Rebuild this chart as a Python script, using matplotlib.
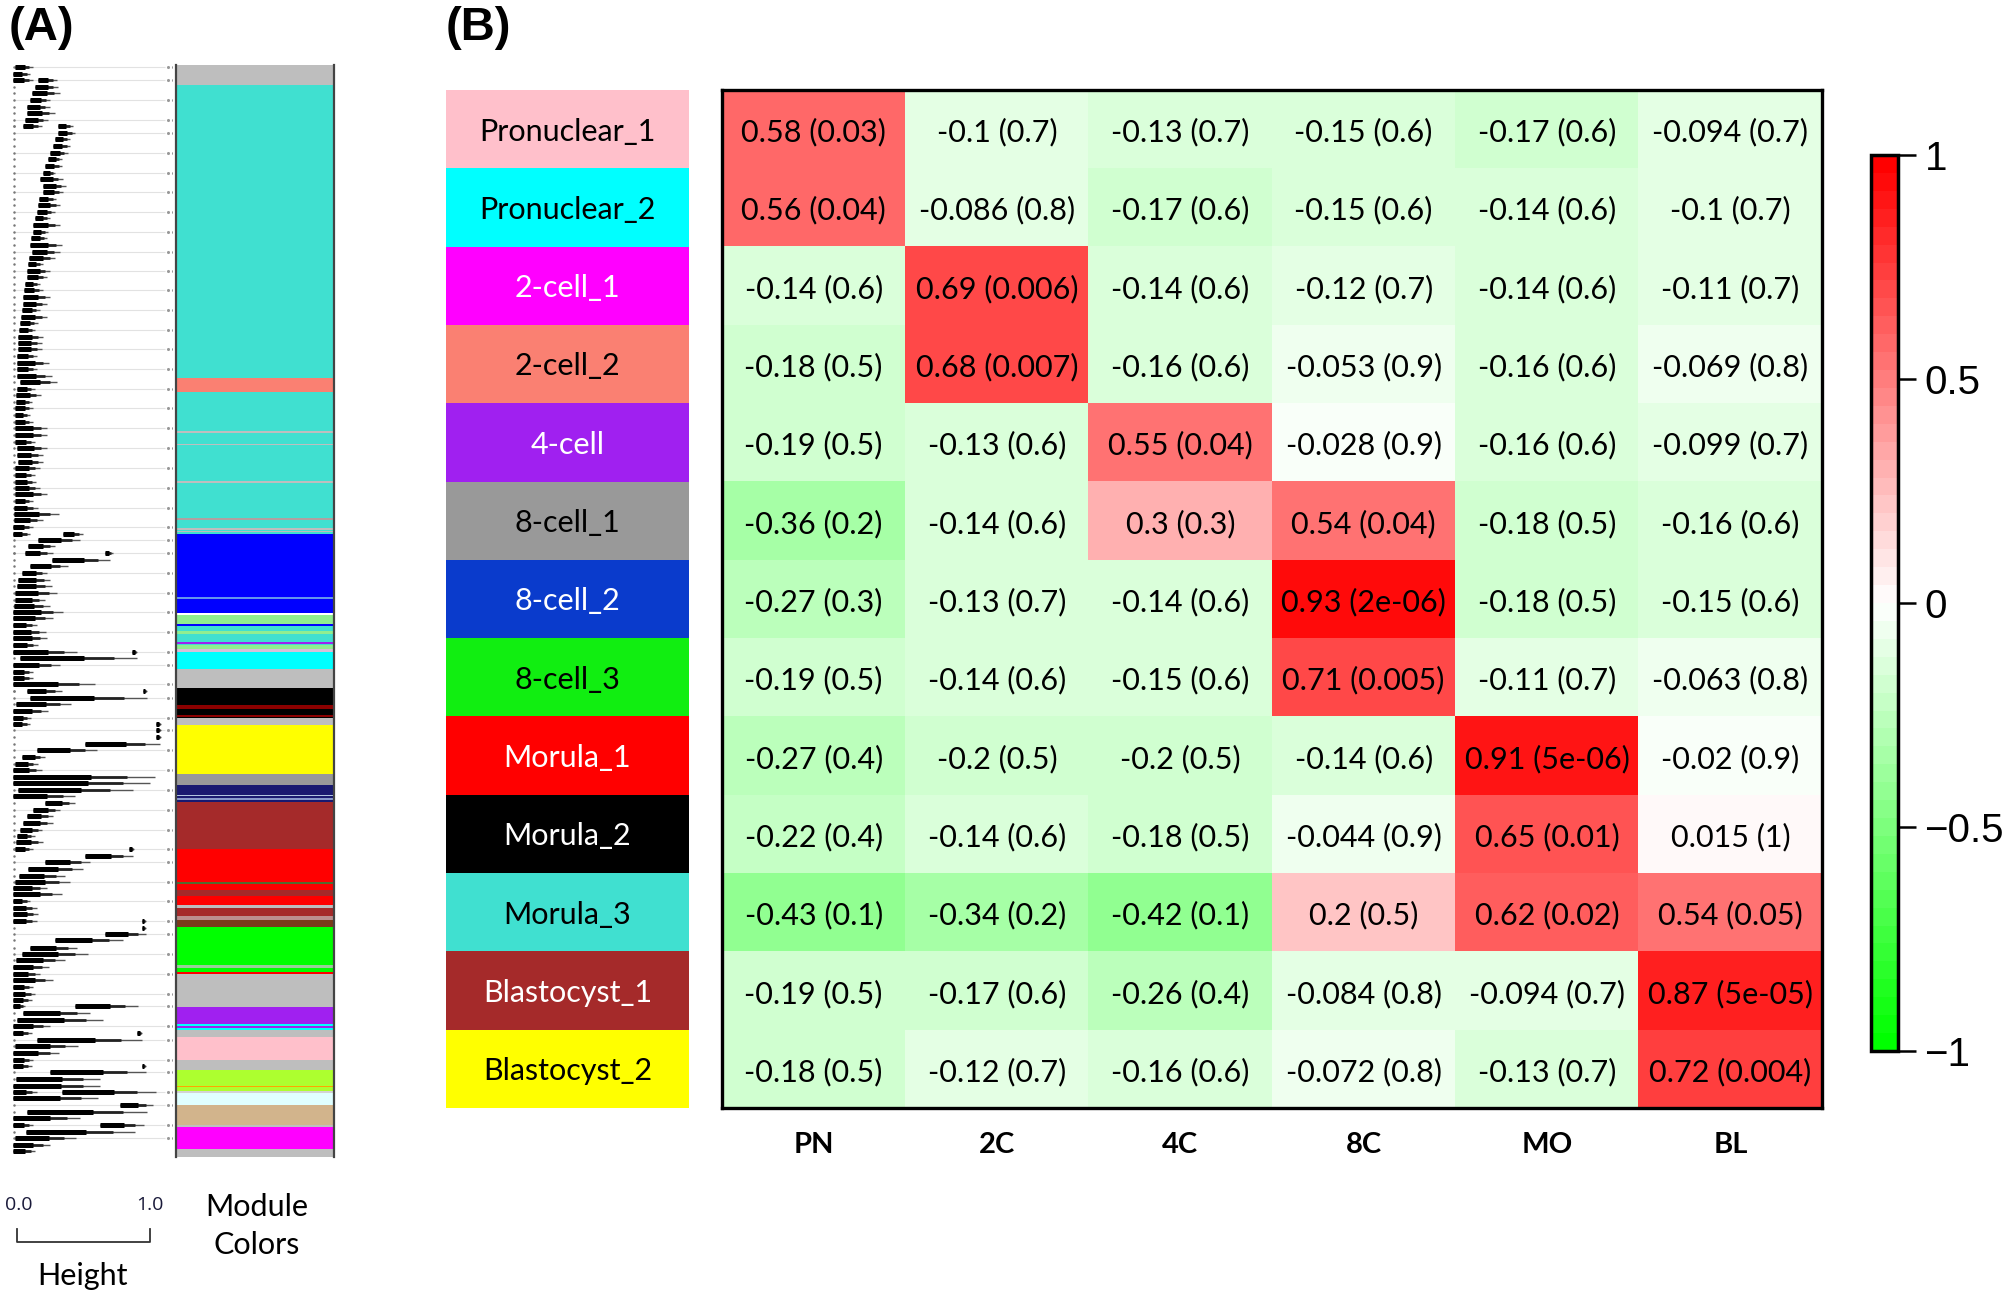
import numpy as np
import matplotlib.pyplot as plt
from matplotlib.colors import LinearSegmentedColormap
from matplotlib.collections import LineCollection

W, H = 2015, 1296

# ---------------- Panel B data ----------------
modules = ['Pronuclear_1', 'Pronuclear_2', '2-cell_1', '2-cell_2', '4-cell',
           '8-cell_1', '8-cell_2', '8-cell_3', 'Morula_1', 'Morula_2',
           'Morula_3', 'Blastocyst_1', 'Blastocyst_2']
module_box_colors = ['#FFC0CB', '#00FFFF', '#FF00FF', '#FA8072', '#A020F0',
                     '#999999', '#0A3BCC', '#11EE11', '#FF0000', '#000000',
                     '#40E0D0', '#A52A2A', '#FFFF00']
label_text_colors = ['black', 'black', 'white', 'black', 'white',
                     'black', 'white', 'black', 'white', 'white',
                     'black', 'white', 'black']
stages = ['PN', '2C', '4C', '8C', 'MO', 'BL']

corr = [
    [0.58, -0.1, -0.13, -0.15, -0.17, -0.094],
    [0.56, -0.086, -0.17, -0.15, -0.14, -0.1],
    [-0.14, 0.69, -0.14, -0.12, -0.14, -0.11],
    [-0.18, 0.68, -0.16, -0.053, -0.16, -0.069],
    [-0.19, -0.13, 0.55, -0.028, -0.16, -0.099],
    [-0.36, -0.14, 0.3, 0.54, -0.18, -0.16],
    [-0.27, -0.13, -0.14, 0.93, -0.18, -0.15],
    [-0.19, -0.14, -0.15, 0.71, -0.11, -0.063],
    [-0.27, -0.2, -0.2, -0.14, 0.91, -0.02],
    [-0.22, -0.14, -0.18, -0.044, 0.65, 0.015],
    [-0.43, -0.34, -0.42, 0.2, 0.62, 0.54],
    [-0.19, -0.17, -0.26, -0.084, -0.094, 0.87],
    [-0.18, -0.12, -0.16, -0.072, -0.13, 0.72],
]
pval = [
    [0.03, 0.7, 0.7, 0.6, 0.6, 0.7],
    [0.04, 0.8, 0.6, 0.6, 0.6, 0.7],
    [0.6, 0.006, 0.6, 0.7, 0.6, 0.7],
    [0.5, 0.007, 0.6, 0.9, 0.6, 0.8],
    [0.5, 0.6, 0.04, 0.9, 0.6, 0.7],
    [0.2, 0.6, 0.3, 0.04, 0.5, 0.6],
    [0.3, 0.7, 0.6, 2e-06, 0.5, 0.6],
    [0.5, 0.6, 0.6, 0.005, 0.7, 0.8],
    [0.4, 0.5, 0.5, 0.6, 5e-06, 0.9],
    [0.4, 0.6, 0.5, 0.9, 0.01, 1],
    [0.1, 0.2, 0.1, 0.5, 0.02, 0.05],
    [0.5, 0.6, 0.4, 0.8, 0.7, 5e-05],
    [0.5, 0.7, 0.6, 0.8, 0.7, 0.004],
]

# ---------------- Panel A data ----------------
# gene order where each module colour block starts
mod_starts = [65, 85, 378, 392, 431, 432.5, 443.5, 445, 481, 482.5, 518, 520,
              528, 529.5, 530.5, 532, 534, 597, 598.5, 613, 615, 624, 626, 631,
              634, 642, 643.5, 645, 649, 652, 669, 688, 705, 709, 715, 717, 718,
              725, 774, 785, 794.5, 795.5, 798, 799.5, 802, 849, 882, 883.5, 890,
              895.5, 905, 908, 916, 920, 927, 965, 968, 972, 973.5, 1007, 1023.5,
              1026, 1028, 1030, 1037, 1060, 1070, 1085.5, 1087, 1091, 1093, 1105,
              1125, 1127, 1149]
mod_end = 1157
mod_cols = ['#BEBEBE', '#40E0D0', '#FA8072', '#40E0D0', '#BEBEBE', '#40E0D0',
            '#BEBEBE', '#40E0D0', '#BEBEBE', '#40E0D0', '#B0A0A0', '#40E0D0',
            '#BEBEBE', '#40E0D0', '#BEBEBE', '#40E0D0', '#0000FF', '#6495ED',
            '#0000FF', '#FFFFFF', '#90EE90', '#0000FF', '#40E0D0', '#90EE90',
            '#40E0D0', '#A020F0', '#40E0D0', '#90EE90', '#D8BFD8', '#00FFFF',
            '#BEBEBE', '#000000', '#8B0000', '#000000', '#8B0000', '#000000',
            '#BEBEBE', '#FFFF00', '#999999', '#191970', '#B0C4DE', '#191970',
            '#8899CC', '#191970', '#A52A2A', '#FF0000', '#556B2F', '#FF0000',
            '#A52A2A', '#FF0000', '#BEBEBE', '#A52A2A', '#BC8F8F', '#7A3A1A',
            '#00FF00', '#9ACD9A', '#00FF00', '#FF0000', '#BEBEBE', '#A020F0',
            '#00FFFF', '#A020F0', '#00FFFF', '#BEBEBE', '#FFC0CB', '#BEBEBE',
            '#ADFF2F', '#FFA500', '#ADFF2F', '#D3D3D3', '#E0FFFF', '#D2B48C',
            '#BEBEBE', '#FF00FF', '#BEBEBE']

# dendrogram branches: (gene order, left end, right end), ends read in px
# against the Height scale bar (0.0 at 17, 1.0 at 150)
dend_rows = [
    (67, 15, 33), (74, 13, 30), (80, 13, 33), (80, 38, 57), (87, 35, 58),
    (93, 32, 60), (100, 30, 50), (107, 27, 50), (113, 27, 55), (120, 25, 48),
    (126, 23, 42), (126, 58, 73), (133, 58, 75), (139, 55, 70), (146, 53, 70),
    (153, 50, 68), (159, 48, 62), (166, 45, 62), (173, 43, 55), (179, 40, 63),
    (186, 43, 66), (192, 43, 63), (199, 39, 56), (205, 38, 60), (212, 37, 55),
    (218, 35, 50), (225, 33, 60), (232, 33, 48), (238, 31, 47), (245, 30, 62),
    (252, 32, 60), (258, 29, 55), (264, 28, 43), (271, 27, 50), (277, 27, 47),
    (284, 25, 40), (290, 24, 43), (297, 23, 50), (304, 23, 47), (310, 22, 40),
    (317, 21, 47), (323, 20, 38), (330, 19, 35), (337, 18, 43), (343, 18, 42),
    (349, 18, 42), (356, 17, 37), (363, 17, 49), (369, 17, 37), (376, 17, 52),
    (382, 20, 57), (389, 17, 35), (395, 16, 41), (402, 16, 32), (408, 15, 33),
    (415, 15, 30), (422, 15, 33), (428, 15, 47), (435, 15, 47), (442, 15, 35),
    (448, 17, 47), (455, 17, 43), (462, 18, 43), (468, 15, 40), (475, 15, 35),
    (482, 15, 36), (488, 15, 40), (494, 15, 47), (501, 15, 33), (508, 14, 38),
    (514, 14, 59), (520, 14, 43), (527, 13, 33), (534, 13, 30), (534, 63, 83),
    (540, 38, 80), (546, 28, 55), (553, 25, 53), (553, 105, 113), (560, 52, 110),
    (566, 30, 68), (573, 22, 47), (580, 18, 50), (586, 17, 52), (593, 15, 57),
    (600, 15, 45), (606, 14, 50), (612, 13, 63), (618, 13, 53), (625, 13, 37),
    (632, 13, 46), (638, 13, 47), (645, 13, 38), (652, 13, 77), (652, 132, 137),
    (658, 20, 137), (665, 13, 60), (672, 13, 33), (678, 13, 33), (684, 13, 95),
    (691, 27, 62), (691, 143, 147), (698, 30, 147), (704, 16, 71), (711, 13, 48),
    (718, 13, 31), (724, 13, 30), (724, 156, 161), (730, 156, 161), (737, 156, 161),
    (744, 85, 160), (750, 37, 97), (757, 22, 45), (764, 15, 38), (770, 13, 42),
    (777, 13, 155), (783, 13, 150), (790, 18, 133), (796, 13, 75), (803, 45, 75),
    (810, 33, 60), (816, 27, 53), (823, 23, 53), (830, 20, 42), (836, 17, 35),
    (842, 16, 43), (849, 15, 33), (849, 129, 134), (856, 85, 133), (862, 45, 90),
    (869, 28, 83), (876, 19, 65), (882, 15, 70), (888, 13, 47), (894, 13, 62),
    (901, 13, 30), (908, 13, 37), (914, 13, 38), (921, 13, 37), (921, 142, 146),
    (928, 142, 146), (934, 105, 146), (940, 55, 123), (948, 30, 77), (954, 22, 88),
    (960, 16, 65), (967, 13, 49), (974, 13, 40), (980, 13, 53), (987, 13, 33),
    (994, 13, 35), (1000, 13, 32), (1006, 13, 25), (1006, 75, 138), (1013, 23, 90),
    (1020, 17, 103), (1026, 13, 50), (1033, 13, 32), (1033, 137, 142), (1040, 37, 142),
    (1046, 15, 78), (1053, 13, 59), (1060, 13, 33), (1066, 13, 32), (1066, 142, 146),
    (1072, 50, 146), (1079, 16, 100), (1086, 13, 100), (1092, 13, 37), (1092, 62, 156),
    (1098, 13, 98), (1105, 120, 153), (1112, 27, 147), (1118, 13, 80), (1125, 13, 33),
    (1125, 100, 144), (1132, 26, 135), (1138, 15, 76), (1145, 13, 50), (1151, 13, 35),
]


def box(x0, y0, x1, y1):
    # pixel box (top-left origin) -> figure fraction rect
    return [x0 / W, 1 - y1 / H, (x1 - x0) / W, (y1 - y0) / H]


fig = plt.figure(figsize=(W / 100, H / 100), dpi=100)
fig.patch.set_facecolor('white')

cal = ['Lato', 'DejaVu Sans']
ari = ['Liberation Sans', 'DejaVu Sans']

# ================= Panel A =================
ax_t = fig.add_axes(box(12, 65, 172, 1157))
ax_t.set_xlim((12 - 17) / 133, (172 - 17) / 133)
ax_t.set_ylim(mod_end, mod_starts[0])
ax_t.axis('off')

dy = np.array([r[0] for r in dend_rows], dtype=float)
h0 = (np.array([r[1] for r in dend_rows]) - 17) / 133
h1 = (np.array([r[2] for r in dend_rows]) - 17) / 133

# faint guide lines every third leaf, with the little dots at the right
guide_y = dy[::3]
ax_t.hlines(guide_y, -0.03, 1.11, color='#E2E2E2', lw=0.8, zorder=1)
ax_t.scatter(np.full(len(guide_y), 1.135), guide_y, s=1.5, color='#999999', zorder=1)
ax_t.scatter(np.full(len(guide_y), 1.17), guide_y, s=1.5, color='#999999', zorder=1)

thin = [[(a, y), (b, y)] for a, b, y in zip(h0, h1, dy)]
mid = [[(a, y), (a + 0.8 * (b - a), y)] for a, b, y in zip(h0, h1, dy)]
thick = [[(a, y), (a + 0.55 * (b - a), y)] for a, b, y in zip(h0, h1, dy)]
ax_t.add_collection(LineCollection(thin, colors='#555555', linewidths=1.0, zorder=2))
ax_t.add_collection(LineCollection(mid, colors='#222222', linewidths=2.0, zorder=3))
ax_t.add_collection(LineCollection(thick, colors='black', linewidths=3.6, zorder=4))
# tiny leaf marks at the left edge
ax_t.scatter(np.full(len(dy), -0.025), dy, s=0.6, color='#777777', zorder=2)

# Height scale bar
bar_y, tick_y = 1242, 1229
ax_t.plot([0, 0, 1, 1], [tick_y, bar_y, bar_y, tick_y], color='#333333', lw=1.3,
          clip_on=False)
ax_t.text(0.01, 1205, '0.0', ha='center', va='center', fontsize=14,
          family=['Open Sans', 'DejaVu Sans'], color='#1a1a3a', clip_on=False)
ax_t.text(1.0, 1205, '1.0', ha='center', va='center', fontsize=14,
          family=['Open Sans', 'DejaVu Sans'], color='#1a1a3a', clip_on=False)
ax_t.text(0.49, 1276, 'Height', ha='center', va='center', fontsize=22,
          family=cal, clip_on=False)

ax_m = fig.add_axes(box(176, 65, 334, 1157))
starts = np.array(mod_starts, dtype=float)
ends = np.append(starts[1:], mod_end)
ax_m.barh((starts + ends) / 2, 1, height=ends - starts, left=0, color=mod_cols,
          edgecolor='none', linewidth=0)
ax_m.set_xlim(0, 1)
ax_m.set_ylim(mod_end, mod_starts[0])
ax_m.set_xticks([])
ax_m.set_yticks([])
for s in ['top', 'bottom']:
    ax_m.spines[s].set_visible(False)
for s in ['left', 'right']:
    ax_m.spines[s].set_color('#444444')
    ax_m.spines[s].set_linewidth(1.6)
fig.text(257 / W, 1 - 1226 / H, 'Module\nColors', ha='center', va='center',
         fontsize=22, family=cal, linespacing=1.45)

fig.text(9 / W, 1 - 28 / H, '(A)', ha='left', va='center', fontsize=34,
         fontweight='bold', family=ari)
fig.text(446 / W, 1 - 28 / H, '(B)', ha='left', va='center', fontsize=34,
         fontweight='bold', family=ari)

# ================= Panel B =================
n = len(modules)
ax_l = fig.add_axes(box(446, 90, 689, 1108))
ax_l.barh(np.arange(n), 1, height=1.0, color=module_box_colors, edgecolor='none')
for i, (lab, tc) in enumerate(zip(modules, label_text_colors)):
    ax_l.text(0.5, i + 0.03, lab, ha='center', va='center', color=tc, fontsize=22,
              family=cal)
ax_l.set_xlim(0, 1)
ax_l.set_ylim(n - 0.5, -0.5)
ax_l.axis('off')

cmap = LinearSegmentedColormap.from_list('gwr', ['#00FF00', '#FFFFFF', '#FF0000'], N=50)
ax_h = fig.add_axes(box(722, 90, 1822, 1108))
im = ax_h.imshow(np.array(corr), cmap=cmap, vmin=-1, vmax=1, aspect='auto',
                 interpolation='nearest')
for i in range(n):
    for j in range(len(stages)):
        ax_h.text(j, i + 0.04, f"{corr[i][j]:g} ({pval[i][j]:g})", ha='center',
                  va='center', fontsize=22, family=cal)
ax_h.set_xticks(range(len(stages)))
ax_h.set_xticklabels(stages, fontsize=21, fontweight='bold', family=cal)
ax_h.set_yticks([])
ax_h.tick_params(axis='x', length=0, pad=17)
for s in ax_h.spines.values():
    s.set_linewidth(2.4)
    s.set_color('black')

ax_c = fig.add_axes(box(1871, 155, 1898, 1051))
cb = fig.colorbar(im, cax=ax_c, ticks=[-1, -0.5, 0, 0.5, 1])
cb.outline.set_linewidth(2.5)
cb.ax.tick_params(length=13, width=1.8, pad=6, labelsize=29)
cb.ax.set_yticklabels(['\u22121', '\u22120.5', '0', '0.5', '1'], family=ari)

fig.savefig('out.png', dpi=100, facecolor='white')
